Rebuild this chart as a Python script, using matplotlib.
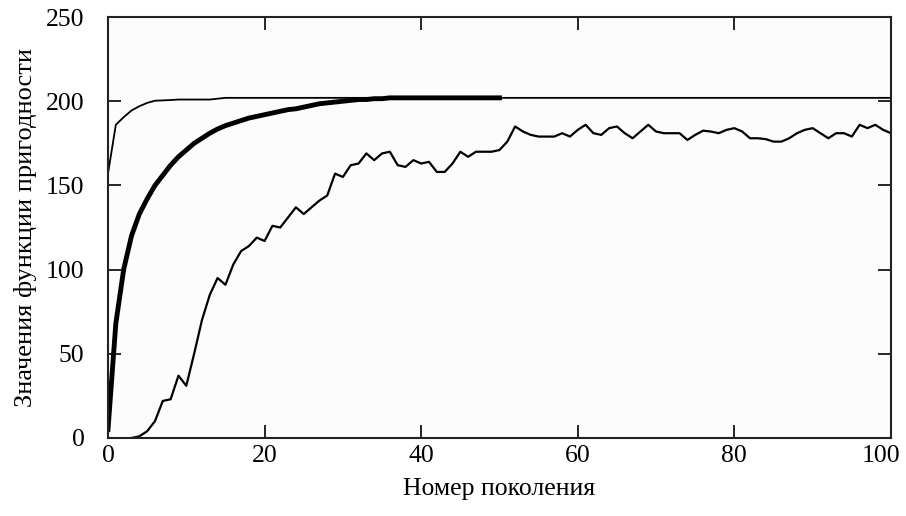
import matplotlib
matplotlib.use("Agg")
import matplotlib.pyplot as plt
import matplotlib.transforms as mtransforms

plt.rcParams['font.family'] = ['Liberation Serif', 'DejaVu Serif']

generations = list(range(0, 101))

# best individual (thin line)
best_values = [157, 186, 190.5, 194.5, 197, 199, 200.3, 200.5, 200.7, 201,
               201, 201, 201, 201, 201.5] + [202] * 86

# population average (thick line), generations 0..50
mean_values = [5, 68, 100, 120, 133, 142, 150, 156, 162, 167,
               171, 175, 178, 181, 183.5, 185.5, 187, 188.5, 190, 191,
               192, 193, 194, 195, 195.5, 196.5, 197.5, 198.5, 199, 199.5,
               200, 200.5, 201, 201, 201.5, 201.5, 202, 202, 202, 202,
               202, 202, 202, 202, 202, 202, 202, 202, 202, 202, 202]

# noisy curve, generations 3..100
noisy_values = [0, 1, 4, 10, 22, 23, 37, 31, 50, 70,
                85, 95, 91, 103, 111, 114, 119, 117, 126, 125,
                131, 137, 133, 137, 141, 144, 157, 155, 162, 163,
                169, 165, 169, 170, 162, 161, 165, 163, 164, 158,
                158, 163, 170, 167, 170, 170, 170, 171, 176, 185,
                182, 180, 179, 179, 179, 181, 179, 183, 186, 181,
                180, 184, 185, 181, 178, 182, 186, 182, 181, 181,
                181, 177, 180, 182.5, 182, 181, 183, 184, 182, 178,
                178, 177.5, 176, 176, 178, 181, 183, 184, 181, 178,
                181, 181, 179, 186, 184, 186, 183, 181]

x_ticks = [0, 20, 40, 60, 80, 100]
y_ticks = [0, 50, 100, 150, 200, 250]
x_label = "Номер поколения"
y_label = "Значения функции пригодности"

fig = plt.figure(figsize=(9.06, 5.16), dpi=100)
ax = fig.add_axes([0.1192, 0.1512, 0.8642, 0.8158])
ax.set_facecolor('#fcfcfc')

ax.plot(generations[:len(best_values)], best_values, color='black', lw=1.3)
ax.plot(generations[:len(mean_values)], mean_values, color='black', lw=3.5)
ax.plot(generations[3:3 + len(noisy_values)], noisy_values, color='black', lw=1.6)

ax.set_xlim(0, 100)
ax.set_ylim(0, 250)
ax.set_xticks(x_ticks)
ax.set_yticks(y_ticks)
ax.tick_params(direction='in', length=9.5, width=1.2, top=True, right=True,
               labelsize=18.5, colors='black')
ax.tick_params(axis='y', pad=17)
ax.tick_params(axis='x', pad=5)
for s in ax.spines.values():
    s.set_linewidth(1.5)
    s.set_color('#222222')

fig.canvas.draw()
last = ax.get_xticklabels()[-1]
last.set_transform(last.get_transform() +
                   mtransforms.ScaledTranslation(-10 / 100, 0, fig.dpi_scale_trans))

ax.set_xlabel(x_label, fontsize=18.5, labelpad=8)
ax.set_ylabel(y_label, fontsize=19, labelpad=6)

fig.savefig("out.png", dpi=100, facecolor='white')
